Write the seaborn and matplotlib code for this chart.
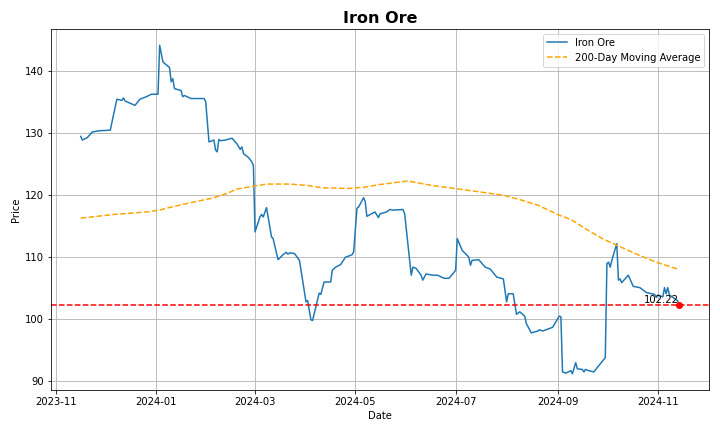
import pandas as pd
import seaborn as sns
import matplotlib
matplotlib.use("Agg")
import matplotlib.pyplot as plt
import matplotlib.dates as mdates

# price series
price_dates = [
    "2023-11-16", "2023-11-17", "2023-11-20", "2023-11-23", "2023-11-27", "2023-12-04",
    "2023-12-05", "2023-12-08", "2023-12-11", "2023-12-12", "2023-12-13", "2023-12-19",
    "2023-12-22", "2023-12-26", "2023-12-29", "2024-01-02", "2024-01-03", "2024-01-05",
    "2024-01-09", "2024-01-10", "2024-01-11", "2024-01-12", "2024-01-16", "2024-01-17",
    "2024-01-18", "2024-01-22", "2024-01-30", "2024-01-31", "2024-02-02", "2024-02-05",
    "2024-02-06", "2024-02-07", "2024-02-08", "2024-02-09", "2024-02-12", "2024-02-16",
    "2024-02-19", "2024-02-21", "2024-02-22", "2024-02-23", "2024-02-26", "2024-02-28",
    "2024-02-29", "2024-03-01", "2024-03-04", "2024-03-05", "2024-03-06", "2024-03-08",
    "2024-03-11", "2024-03-12", "2024-03-15", "2024-03-18", "2024-03-20", "2024-03-21",
    "2024-03-22", "2024-03-25", "2024-03-28", "2024-04-01", "2024-04-02", "2024-04-04",
    "2024-04-05", "2024-04-09", "2024-04-10", "2024-04-12", "2024-04-16", "2024-04-17",
    "2024-04-19", "2024-04-22", "2024-04-25", "2024-04-29", "2024-04-30", "2024-05-02",
    "2024-05-03", "2024-05-06", "2024-05-07", "2024-05-08", "2024-05-13", "2024-05-15",
    "2024-05-16", "2024-05-20", "2024-05-22", "2024-05-24", "2024-05-30", "2024-05-31",
    "2024-06-04", "2024-06-05", "2024-06-07", "2024-06-10", "2024-06-11", "2024-06-13",
    "2024-06-17", "2024-06-20", "2024-06-24", "2024-06-27", "2024-07-01", "2024-07-02",
    "2024-07-05", "2024-07-08", "2024-07-09", "2024-07-10", "2024-07-11", "2024-07-15",
    "2024-07-19", "2024-07-22", "2024-07-26", "2024-07-30", "2024-08-01", "2024-08-02",
    "2024-08-05", "2024-08-07", "2024-08-09", "2024-08-12", "2024-08-13", "2024-08-16",
    "2024-08-20", "2024-08-21", "2024-08-23", "2024-08-29", "2024-09-02", "2024-09-03",
    "2024-09-04", "2024-09-06", "2024-09-09", "2024-09-10", "2024-09-12", "2024-09-13",
    "2024-09-16", "2024-09-17", "2024-09-18", "2024-09-20", "2024-09-23", "2024-09-30",
    "2024-10-01", "2024-10-02", "2024-10-03", "2024-10-04", "2024-10-07", "2024-10-08",
    "2024-10-09", "2024-10-10", "2024-10-14", "2024-10-17", "2024-10-21", "2024-10-25",
    "2024-10-30", "2024-10-31", "2024-11-01", "2024-11-04", "2024-11-05", "2024-11-06",
    "2024-11-07", "2024-11-08", "2024-11-13", "2024-11-14",
]
price_values = [
    129.5, 128.9, 129.3, 130.2, 130.4, 130.5,
    131.8, 135.5, 135.3, 135.7, 135.2, 134.5,
    135.5, 135.9, 136.3, 136.3, 144.2, 141.5,
    140.6, 138.3, 138.8, 137.2, 136.9, 135.9,
    136.1, 135.6, 135.6, 135.1, 128.6, 128.9,
    127.3, 127.0, 129.0, 128.8, 128.9, 129.2,
    128.3, 127.4, 127.8, 126.7, 126.1, 125.4,
    124.8, 114.1, 116.5, 116.9, 116.5, 118.0,
    113.3, 113.0, 109.6, 110.4, 110.8, 110.5,
    110.7, 110.6, 109.5, 102.8, 103.0, 99.9,
    99.8, 104.2, 104.0, 106.0, 106.0, 107.9,
    108.4, 108.8, 110.0, 110.4, 110.9, 117.9,
    118.1, 119.6, 119.0, 116.6, 117.3, 116.4,
    117.0, 117.3, 117.7, 117.6, 117.7, 117.0,
    107.1, 108.4, 108.2, 107.1, 106.3, 107.3,
    107.1, 107.1, 106.6, 106.6, 107.9, 113.0,
    111.1, 110.3, 110.0, 108.7, 109.5, 109.6,
    108.4, 108.1, 106.8, 106.5, 102.8, 104.1,
    104.1, 100.8, 101.2, 100.5, 99.3, 97.8,
    98.1, 98.3, 98.1, 98.7, 100.5, 100.4,
    91.5, 91.3, 91.7, 91.2, 93.0, 92.0,
    91.9, 91.5, 91.9, 91.7, 91.5, 93.8,
    109.0, 109.2, 108.4, 109.5, 112.2, 106.3,
    106.5, 105.9, 107.1, 105.3, 105.1, 104.3,
    104.0, 103.5, 103.9, 103.6, 105.1, 104.1,
    105.1, 103.9, 103.0, 102.22,
]

# 200-day moving average
ma_dates = [
    "2023-11-16", "2023-12-06", "2023-12-26", "2024-01-03", "2024-01-10", "2024-01-22",
    "2024-02-05", "2024-02-13", "2024-02-19", "2024-03-01", "2024-03-08", "2024-03-22",
    "2024-04-01", "2024-04-11", "2024-04-27", "2024-05-07", "2024-05-15", "2024-06-02",
    "2024-06-16", "2024-06-30", "2024-07-14", "2024-07-30", "2024-08-09", "2024-08-20",
    "2024-09-01", "2024-09-09", "2024-09-21", "2024-09-29", "2024-10-09", "2024-10-19",
    "2024-10-31", "2024-11-14",
]
ma_values = [
    116.3, 116.9, 117.3, 117.6, 118.1, 118.8,
    119.6, 120.3, 121.0, 121.5, 121.8, 121.8,
    121.6, 121.2, 121.1, 121.3, 121.7, 122.3,
    121.6, 121.1, 120.6, 120.0, 119.3, 118.4,
    116.9, 116.1, 114.1, 112.9, 111.7, 110.5,
    109.2, 108.0,
]

df_price = pd.DataFrame({"Date": pd.to_datetime(price_dates), "Price": price_values})
df_ma = pd.DataFrame({"Date": pd.to_datetime(ma_dates), "MA": ma_values})

last_date = df_price["Date"].iloc[-1]
last_price = df_price["Price"].iloc[-1]

fig, ax = plt.subplots(figsize=(10, 6), dpi=72)

sns.lineplot(data=df_price, x="Date", y="Price", ax=ax, color="#1f77b4", label="Iron Ore")
sns.lineplot(data=df_ma, x="Date", y="MA", ax=ax, color="orange", linestyle="--",
             label="200-Day Moving Average")

# latest price marker
ax.axhline(last_price, color="red", linestyle="--")
ax.scatter([last_date], [last_price], color="red", zorder=5)
ax.text(last_date, last_price, f"{last_price:.2f}", ha="right", va="bottom", fontsize=10)

ax.xaxis.set_major_locator(mdates.MonthLocator(bymonth=[1, 3, 5, 7, 9, 11]))
ax.xaxis.set_major_formatter(mdates.DateFormatter("%Y-%m"))

ax.set_title("Iron Ore", fontsize=16, fontweight="bold")
ax.set_xlabel("Date")
ax.set_ylabel("Price")
ax.grid(True)
ax.legend(loc="upper right")

plt.tight_layout()
plt.savefig("out.png", dpi=72)
